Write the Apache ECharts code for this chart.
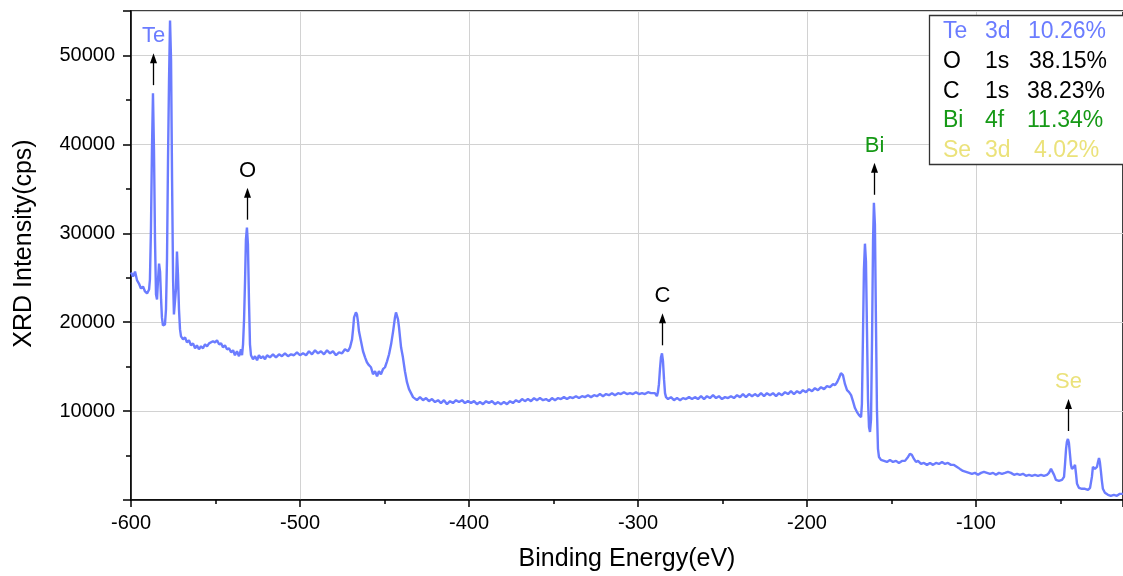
<!DOCTYPE html>
<html>
<head>
<meta charset="utf-8">
<script src="https://cdn.jsdelivr.net/npm/echarts@6/dist/echarts.min.js"></script>
<style>
html, body { margin: 0; padding: 0; background: #fff; }
#chart { width: 1123px; height: 576px; }
</style>
</head>
<body>
<div id="chart"></div>
<script>
// XPS survey spectrum: binding energy (eV) and counts per second
const energy = [
  -600.0, -598.8, -597.6, -596.4, -595.3, -594.1, -592.9, -591.7, -590.5, -589.3,
  -588.8, -588.2, -587.6, -587.0, -586.4, -585.8, -585.2, -584.6, -584.0, -583.4,
  -582.8, -582.2, -581.7, -581.1, -580.5, -579.9, -579.3, -578.7, -578.1, -577.5,
  -576.9, -576.3, -575.7, -575.1, -574.6, -574.0, -573.4, -572.8, -572.2, -571.6,
  -571.0, -570.4, -569.2, -568.0, -566.9, -565.7, -564.5, -563.3, -562.1, -561.0,
  -559.8, -558.6, -557.4, -556.2, -555.0, -553.8, -552.7, -551.5, -550.3, -549.1,
  -547.9, -546.7, -545.6, -544.4, -543.2, -542.0, -540.8, -539.6, -538.5, -537.3,
  -536.1, -534.9, -534.3, -533.7, -533.1, -532.5, -532.0, -531.4, -530.8, -530.2,
  -529.6, -529.0, -527.8, -526.6, -525.4, -524.3, -523.1, -521.9, -520.7, -519.5,
  -517.8, -516.0, -514.2, -512.4, -510.7, -508.9, -507.1, -505.3, -503.6, -501.8,
  -500.0, -498.2, -496.4, -494.7, -492.9, -491.1, -489.3, -487.6, -485.8, -484.0,
  -482.2, -480.5, -478.7, -476.9, -475.1, -473.4, -471.6, -470.4, -469.2, -468.6,
  -468.0, -466.9, -466.3, -465.7, -465.1, -463.9, -462.7, -461.5, -460.4, -459.2,
  -458.0, -456.8, -455.6, -454.4, -453.3, -452.1, -450.9, -449.7, -448.5, -447.3,
  -446.1, -444.9, -443.8, -443.2, -442.6, -442.0, -441.4, -440.8, -440.2, -439.1,
  -437.9, -436.7, -435.5, -434.3, -433.1, -432.0, -430.8, -429.0, -427.2, -425.4,
  -423.7, -421.9, -420.1, -418.3, -416.6, -414.8, -413.0, -411.2, -409.5, -407.7,
  -405.9, -404.1, -402.4, -400.6, -398.8, -397.0, -395.3, -393.5, -391.7, -389.9,
  -388.2, -386.4, -384.6, -382.8, -381.1, -379.3, -377.5, -375.7, -374.0, -372.2,
  -370.4, -368.6, -366.9, -365.1, -363.3, -361.5, -359.8, -358.0, -356.2, -354.4,
  -352.7, -350.9, -349.1, -347.3, -345.6, -343.8, -342.0, -340.2, -338.5, -336.7,
  -334.9, -333.1, -331.4, -329.6, -327.8, -326.0, -324.3, -322.5, -320.7, -318.9,
  -317.2, -315.4, -313.6, -311.8, -310.1, -308.3, -306.5, -304.7, -303.0, -301.2,
  -299.4, -297.6, -295.9, -294.1, -292.3, -291.2, -290.0, -288.8, -288.2, -287.6,
  -287.0, -286.4, -285.8, -285.2, -284.6, -284.0, -283.4, -282.2, -280.5, -278.7,
  -276.9, -275.1, -273.4, -271.6, -269.8, -268.0, -266.3, -264.5, -262.7, -260.9,
  -259.2, -257.4, -255.6, -253.8, -252.1, -250.3, -248.5, -246.7, -245.0, -243.2,
  -241.4, -239.6, -237.9, -236.1, -234.3, -232.5, -230.8, -229.0, -227.2, -225.4,
  -223.7, -221.9, -220.1, -218.3, -216.6, -214.8, -213.0, -211.2, -209.5, -207.7,
  -205.9, -204.1, -202.4, -200.6, -198.8, -197.0, -195.3, -193.5, -191.7, -189.9,
  -188.2, -186.4, -184.6, -183.4, -182.2, -181.1, -179.9, -179.3, -178.7, -177.5,
  -176.3, -175.1, -173.9, -172.8, -171.6, -170.4, -169.2, -168.0, -167.5, -166.9,
  -166.3, -165.7, -165.1, -164.5, -163.9, -163.3, -162.7, -162.1, -161.5, -160.9,
  -160.4, -159.8, -159.2, -158.6, -158.0, -157.4, -156.2, -154.4, -152.7, -150.9,
  -149.1, -147.3, -145.6, -143.8, -142.0, -140.2, -139.1, -137.9, -136.7, -135.5,
  -134.3, -132.5, -130.8, -129.0, -127.2, -125.4, -123.7, -121.9, -120.1, -118.3,
  -116.6, -114.8, -113.0, -111.2, -109.5, -107.7, -105.9, -104.1, -102.4, -100.6,
  -98.8, -97.0, -95.3, -93.5, -91.7, -89.9, -88.2, -86.4, -84.6, -82.8,
  -81.1, -79.3, -77.5, -75.7, -74.0, -72.2, -70.4, -68.6, -66.9, -65.1,
  -63.3, -61.5, -59.8, -58.0, -56.8, -55.6, -55.0, -53.8, -52.7, -50.9,
  -49.1, -47.9, -47.3, -46.7, -46.2, -45.6, -45.0, -44.4, -43.8, -43.2,
  -42.0, -41.4, -40.8, -40.2, -39.1, -37.3, -35.5, -33.7, -32.5, -31.4,
  -30.8, -29.6, -28.4, -27.8, -27.2, -26.7, -26.1, -25.5, -24.9, -23.7,
  -21.9, -20.2, -18.4, -16.6, -14.9, -13.1
];
const intensity = [
  25580, 25130, 25690, 24690, 24350, 23790, 24010, 23450, 23230, 23680,
  24800, 30400, 39370, 45760, 39370, 29280, 23120, 22560, 24800, 26590,
  25690, 22560, 20540, 19640, 19420, 19760, 21430, 27040, 38250, 47220,
  53940, 49460, 36010, 24800, 20870, 20760, 23680, 27940, 25360, 21430,
  19190, 18410, 18070, 18300, 17730, 17960, 17400, 17620, 17060, 17400,
  16950, 17290, 17060, 17510, 17290, 17620, 17510, 17850, 17730, 17960,
  17510, 17620, 17170, 17400, 16950, 17060, 16610, 16840, 16280, 16730,
  16170, 16950, 16280, 17510, 20310, 24800, 29280, 30630, 28720, 22560,
  17510, 16280, 15830, 16170, 15720, 16280, 15940, 16170, 15830, 16280,
  16050, 16390, 16050, 16390, 16170, 16500, 16170, 16390, 16280, 16610,
  16280, 16500, 16280, 16730, 16390, 16840, 16500, 16730, 16390, 16840,
  16500, 16730, 16280, 16610, 16500, 16950, 16730, 17170, 18070, 19190,
  20540, 21100, 20870, 20090, 18970, 17850, 16730, 16050, 15490, 15160,
  14930, 14150, 14480, 13920, 14480, 14150, 14710, 14930, 15600, 16390,
  17510, 18970, 20540, 21100, 20990, 20310, 19420, 18300, 17170, 16050,
  14480, 13250, 12470, 12020, 11570, 11790, 11230, 11570, 11230, 11460,
  11120, 11350, 11010, 11230, 10900, 11230, 10780, 11120, 10900, 11230,
  11010, 11230, 10900, 11120, 10900, 11120, 10780, 11010, 10780, 11120,
  10900, 11120, 10780, 11010, 10780, 11010, 10780, 11120, 10900, 11230,
  11010, 11350, 11120, 11350, 11120, 11460, 11230, 11460, 11230, 11350,
  11120, 11460, 11230, 11460, 11350, 11570, 11350, 11570, 11460, 11680,
  11460, 11680, 11570, 11790, 11570, 11790, 11680, 11910, 11680, 11910,
  11790, 12020, 11790, 12020, 11910, 12130, 11910, 12020, 11910, 12130,
  11910, 12020, 11910, 12130, 12020, 12240, 12020, 11680, 12130, 13030,
  14710, 16050, 16500, 15610, 13590, 12020, 11570, 11350, 11570, 11230,
  11460, 11230, 11460, 11350, 11570, 11350, 11570, 11350, 11680, 11350,
  11680, 11460, 11790, 11460, 11680, 11350, 11570, 11460, 11680, 11460,
  11790, 11570, 11910, 11570, 11910, 11680, 11910, 11680, 12020, 11680,
  12020, 11790, 12020, 11680, 12020, 11790, 12130, 11910, 12240, 11910,
  12240, 12020, 12350, 12130, 12470, 12240, 12580, 12350, 12690, 12470,
  12800, 12690, 13030, 12920, 13250, 13700, 14260, 14370, 14040, 13030,
  12350, 12130, 11790, 11120, 10340, 9890, 9550, 9330, 10780, 18070,
  25920, 28830, 26810, 19190, 11350, 8210, 7650, 9100, 18070, 29280,
  33430, 30960, 20310, 10220, 5740, 4840, 4510, 4400, 4280, 4510,
  4280, 4400, 4170, 4400, 4400, 4840, 5180, 5070, 4620, 4280,
  4400, 4060, 4170, 3950, 4170, 3950, 4170, 4060, 4280, 4060,
  4170, 3950, 3950, 3720, 3500, 3270, 3160, 3050, 2940, 3050,
  2830, 3050, 3160, 3050, 2940, 3050, 2830, 3050, 2940, 3050,
  3160, 3050, 2830, 2940, 2830, 2940, 2720, 2830, 2720, 2830,
  2720, 2830, 2720, 2830, 3050, 3500, 3610, 2830, 2270, 2160,
  2270, 2600, 4060, 5740, 6530, 6860, 6420, 5180, 3950, 3500,
  3720, 3950, 2940, 1820, 1370, 1260, 1260, 1140, 1370, 2600,
  3720, 3500, 3720, 4280, 4730, 4280, 3270, 2160, 1260, 810,
  580, 470, 580, 470, 690, 690
];

// Peak markers: element, binding energy and peak intensity
const peakNames = ['Te', 'O', 'C', 'Bi', 'Se'];
const peakEnergy = [-587.0, -531.4, -285.8, -160.4, -45.6];
const peakIntensity = [45760, 30630, 16500, 33430, 6860];

// Atomic composition table
const compElement = ['Te', 'O', 'C', 'Bi', 'Se'];
const compOrbital = ['3d', '1s', '1s', '4f', '3d'];
const compPercent = ['10.26%', '38.15%', '38.23%', '11.34%', '4.02%'];

const LINE = '#6b7cff';
const elementColor = { Te: '#6b7cff', O: '#000000', C: '#000000', Bi: '#169916', Se: '#ebe27a' };
const FONT = '"Liberation Sans", Arial, sans-serif';

const chart = echarts.init(document.getElementById('chart'), null, { renderer: 'canvas' });

const seriesData = energy.map((e, i) => [e, intensity[i]]);

chart.setOption({
  animation: false,
  backgroundColor: '#ffffff',
  textStyle: { fontFamily: FONT },
  grid: {
    left: 131, right: 0, top: 11, bottom: 76,
    containLabel: false, outerBoundsMode: 'none',
    show: true, borderColor: '#000', borderWidth: 1.5, backgroundColor: 'transparent'
  },
  xAxis: {
    type: 'value',
    min: -600, max: -13, interval: 100,
    name: 'Binding Energy(eV)',
    nameLocation: 'middle', nameGap: 47,
    nameTextStyle: { fontSize: 25, color: '#000', fontFamily: FONT },
    axisLine: { show: true, onZero: false, lineStyle: { color: '#000', width: 1.5 } },
    axisTick: { show: true, inside: false, length: 7, lineStyle: { color: '#000', width: 1.5 } },
    minorTick: { show: true, splitNumber: 2, length: 4, lineStyle: { color: '#000', width: 1.5 } },
    splitLine: { show: true, lineStyle: { color: '#d2d2d2', width: 1 } },
    axisLabel: {
      fontSize: 20, color: '#000', margin: 13, fontFamily: FONT,
      showMaxLabel: false,
      formatter: v => (v % 100 === 0 ? String(v) : '')
    }
  },
  yAxis: {
    type: 'value',
    min: 0, max: 55000, interval: 10000,
    name: 'XRD Intensity(cps)',
    nameLocation: 'middle', nameGap: 94,
    nameTextStyle: { fontSize: 25, color: '#000', fontFamily: FONT, padding: [0, 0, 0, 24] },
    axisLine: { show: true, onZero: false, lineStyle: { color: '#000', width: 1.5 } },
    axisTick: { show: true, inside: false, length: 8, lineStyle: { color: '#000', width: 1.5 } },
    minorTick: { show: true, splitNumber: 2, length: 5, lineStyle: { color: '#000', width: 1.5 } },
    splitLine: { show: true, lineStyle: { color: '#d2d2d2', width: 1 } },
    axisLabel: {
      fontSize: 20, color: '#000', margin: 16, fontFamily: FONT,
      showMaxLabel: false,
      formatter: v => (v === 0 || v % 10000 !== 0 ? '' : String(v))
    }
  },
  series: [{
    type: 'line',
    data: seriesData,
    showSymbol: false,
    symbol: 'none',
    lineStyle: { color: LINE, width: 2.4 },
    clip: true,
    z: 3
  }]
});

// Peak annotations (arrow + element label) and the composition table
const graphics = [];
peakNames.forEach((name, i) => {
  const p = chart.convertToPixel({ gridIndex: 0 }, [peakEnergy[i], peakIntensity[i]]);
  const x = Math.round(p[0]) + 0.5;
  const yBase = p[1] - 8;
  const yTip = p[1] - 40;
  graphics.push({
    type: 'line', z: 10,
    shape: { x1: x, y1: yBase, x2: x, y2: yTip + 8 },
    style: { stroke: '#000', lineWidth: 1.3 }
  });
  graphics.push({
    type: 'polygon', z: 10,
    shape: { points: [[x, yTip], [x - 3.5, yTip + 10], [x + 3.5, yTip + 10]] },
    style: { fill: '#000' }
  });
  graphics.push({
    type: 'text', z: 10,
    x: x, y: p[1] - 57,
    style: {
      text: name, fill: elementColor[name], font: '22px ' + FONT,
      align: 'center', verticalAlign: 'middle'
    }
  });
});

const boxLeft = 929, boxTop = 15, rowH = 29.7;
graphics.push({
  type: 'rect', z: 11,
  shape: { x: boxLeft + 0.5, y: boxTop + 0.5, width: 210, height: 149 },
  style: { fill: '#fff', stroke: '#333', lineWidth: 1.3 }
});
const pctX = [1028, 1029, 1027, 1027, 1034];
compElement.forEach((el, i) => {
  const cy = boxTop + 17 + i * rowH;
  const color = elementColor[el];
  graphics.push({ type: 'text', z: 12, x: 943, y: cy,
    style: { text: el, fill: color, font: '23px ' + FONT, verticalAlign: 'middle' } });
  graphics.push({ type: 'text', z: 12, x: 985, y: cy,
    style: { text: compOrbital[i], fill: color, font: '23px ' + FONT, verticalAlign: 'middle' } });
  graphics.push({ type: 'text', z: 12, x: pctX[i], y: cy,
    style: { text: compPercent[i], fill: color, font: '23px ' + FONT, verticalAlign: 'middle' } });
});

chart.setOption({ graphic: graphics });
</script>
</body>
</html>
